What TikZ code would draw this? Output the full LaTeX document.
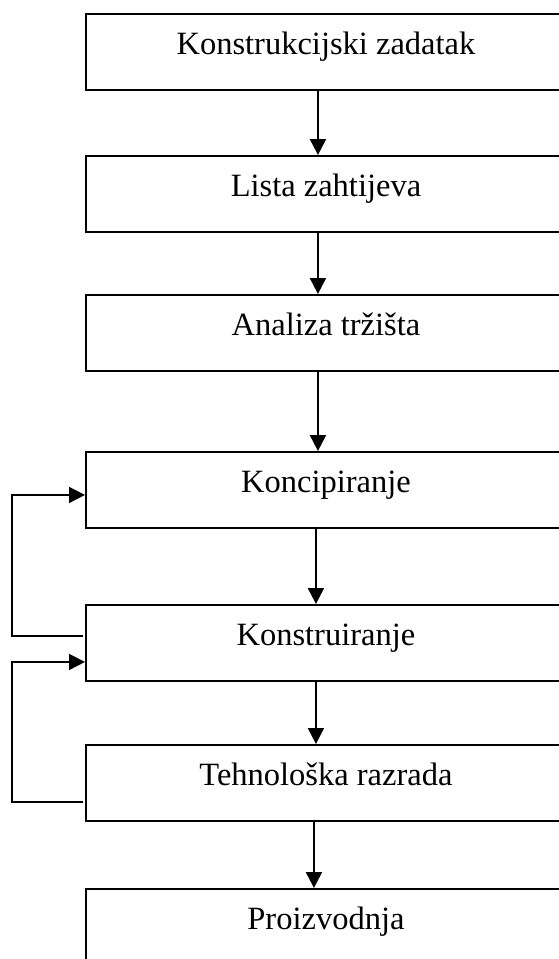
\documentclass[tikz,border=0pt]{standalone}
\usepackage{fontspec}
\setmainfont{Liberation Serif}
\usetikzlibrary{arrows.meta,calc}
\begin{document}
\begin{tikzpicture}[x=1pt,y=-1pt,
  stepbox/.style={draw,line width=1.9pt,rectangle,anchor=north west,
    minimum width=480pt,minimum height=76pt,inner sep=0pt,
    text height=20pt,text depth=15pt,
    font=\fontsize{32.5}{38}\selectfont},
  arr/.style={line width=2pt,-{Triangle[length=16pt,width=16pt]}},
  back/.style={line width=1.7pt,-{Triangle[length=16pt,width=16pt]}}]
\useasboundingbox[fill=white] (0,0) rectangle (558,959);
\node[stepbox] (b1) at (85,13)  {Konstrukcijski zadatak};
\node[stepbox] (b2) at (85,155) {Lista zahtijeva};
\node[stepbox] (b3) at (85,294) {Analiza tržišta};
\node[stepbox] (b4) at (85,451) {Koncipiranje};
\node[stepbox] (b5) at (85,604) {Konstruiranje};
\node[stepbox] (b6) at (85,744) {Tehnološka razrada};
\node[stepbox] (b7) at (85,888) {Proizvodnja};
\draw[arr] ($(b1.south)+(-8,0)$) -- ($(b2.north)+(-8,0)$);
\draw[arr] ($(b2.south)+(-8,0)$) -- ($(b3.north)+(-8,0)$);
\draw[arr] ($(b3.south)+(-8,0)$) -- ($(b4.north)+(-8,0)$);
\draw[arr] ($(b4.south)+(-10,0)$) -- ($(b5.north)+(-10,0)$);
\draw[arr] ($(b5.south)+(-10,0)$) -- ($(b6.north)+(-10,0)$);
\draw[arr] ($(b6.south)+(-12,0)$) -- ($(b7.north)+(-12,0)$);
\draw[back] ($(b5.west)+(-2,-7)$) -- ++(-71,0) |- ($(b4.west)+(0,5)$);
\draw[back] ($(b6.west)+(-2,19)$) -- ++(-71,0) |- ($(b5.west)+(0,19)$);
\end{tikzpicture}
\end{document}
